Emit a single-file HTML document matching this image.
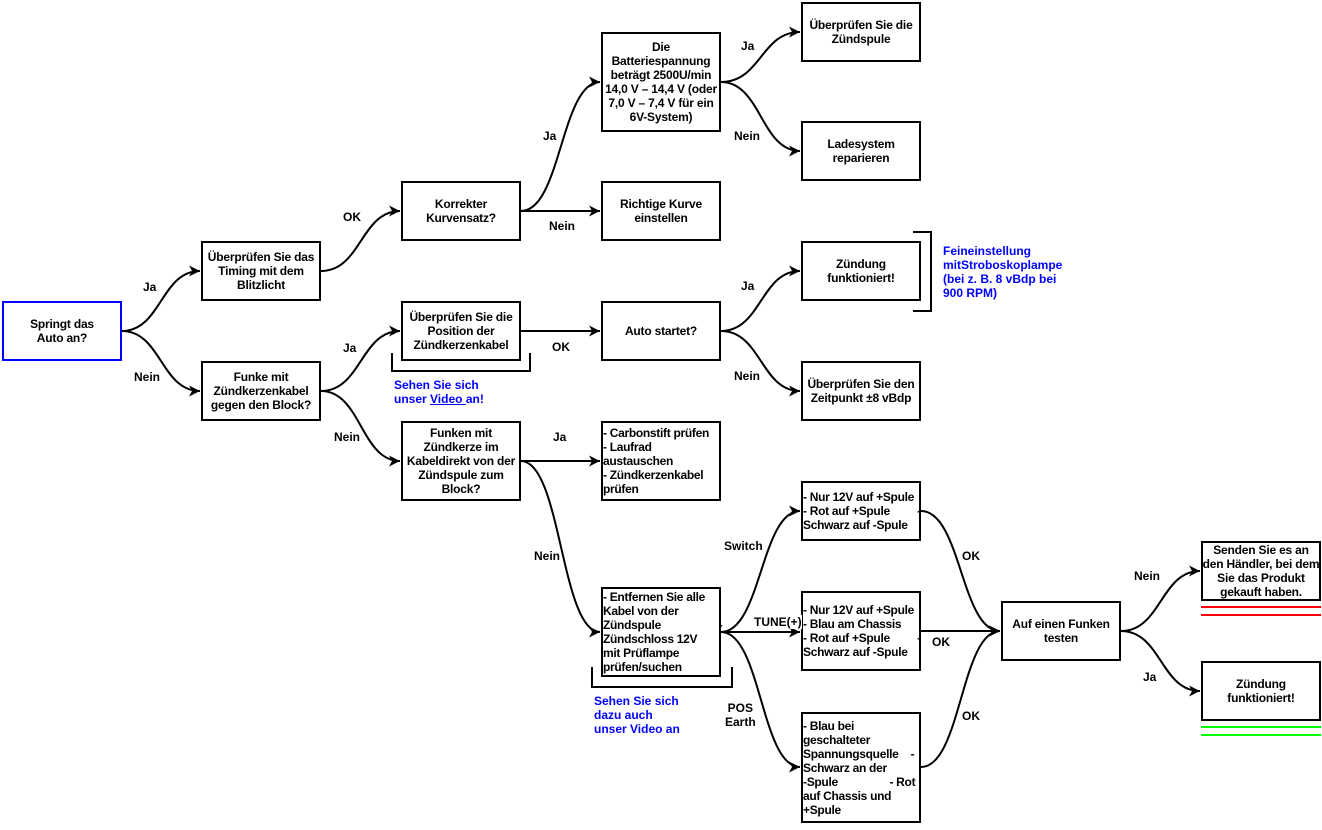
<!DOCTYPE html>
<html><head><meta charset="utf-8"><style>
body{margin:0;width:1322px;height:830px;background:#fff;position:relative;overflow:hidden;font-family:"Liberation Sans",Arial,sans-serif;font-weight:bold;font-size:12px;color:#000}
.b{position:absolute;box-sizing:border-box;border:2px solid #000;background:#fff;display:flex;align-items:center;justify-content:center;text-align:center;line-height:14px;padding:0;white-space:nowrap;letter-spacing:-0.2px}
.l{text-align:left;justify-content:flex-start;letter-spacing:-0.3px}
.t{position:absolute;line-height:14px;white-space:nowrap;background:#fff}
.blue{color:#0000ff;background:none}
svg{position:absolute;left:0;top:0}
</style></head><body>
<svg width="1322" height="830">
<defs><marker id="a" markerWidth="12" markerHeight="12" refX="11" refY="6" orient="auto" markerUnits="userSpaceOnUse"><path d="M0,0.5 L11,6 L0,11.5 L3,6 Z" fill="#000"/></marker></defs>
<g fill="none" stroke="#000" stroke-width="2" marker-end="url(#a)">
<path d="M122,331 C161,331 161,271 200,271"/>
<path d="M122,331 C161,331 161,391 200,391"/>
<path d="M321,271 C361,271 361,211 400,211"/>
<path d="M321,391 C361,391 361,331 400,331"/>
<path d="M321,391 C361,391 361,461 400,461"/>
<path d="M521,211 C561,211 561,82 600,82"/>
<path d="M521,211 L600,211"/>
<path d="M521,331 L600,331"/>
<path d="M521,461 L600,461"/>
<path d="M521,461 C561,461 561,632 600,632"/>
<path d="M721,82 C761,82 761,32 800,32"/>
<path d="M721,82 C761,82 761,151 800,151"/>
<path d="M721,331 C761,331 761,271 800,271"/>
<path d="M721,331 C761,331 761,391 800,391"/>
<path d="M721,632 C761,632 761,511 800,511"/>
<path d="M721,632 L800,632"/>
<path d="M721,632 C761,632 761,767 800,767"/>
<path d="M921,511 C961,511 961,631 1000,631"/>
<path d="M921,631 L1000,631"/>
<path d="M921,767 C961,767 961,631 1000,631"/>
<path d="M1121,631 C1161,631 1161,571 1200,571"/>
<path d="M1121,631 C1161,631 1161,691 1200,691"/>
</g>
<g fill="none" stroke="#000" stroke-width="2">
<path d="M392,353 V371 H530 V353"/>
<path d="M592,667 V687 H732 V667"/>
<path d="M913,232 H931 V311 H913"/>
</g>
<g stroke-width="2"><line x1="1201" y1="607" x2="1321" y2="607" stroke="#f00"/><line x1="1201" y1="615" x2="1321" y2="615" stroke="#f00"/>
<line x1="1201" y1="727" x2="1321" y2="727" stroke="#0f0"/><line x1="1201" y1="735" x2="1321" y2="735" stroke="#0f0"/></g>
</svg>
<div class="b" style="left:2px;top:301px;width:120px;height:60px;border-color:#0000ff">Springt das<br>Auto an?</div>
<div class="b" style="left:201px;top:241px;width:120px;height:60px">Überprüfen Sie das<br>Timing mit dem<br>Blitzlicht</div>
<div class="b" style="left:201px;top:361px;width:120px;height:60px">Funke mit<br>Zündkerzenkabel<br>gegen den Block?</div>
<div class="b" style="left:401px;top:181px;width:120px;height:60px">Korrekter<br>Kurvensatz?</div>
<div class="b" style="left:401px;top:301px;width:120px;height:60px">Überprüfen Sie die<br>Position der<br>Zündkerzenkabel</div>
<div class="b" style="left:401px;top:421px;width:120px;height:80px">Funken mit<br>Zündkerze im<br>Kabeldirekt von der<br>Zündspule zum<br>Block?</div>
<div class="b" style="left:601px;top:32px;width:120px;height:100px">Die<br>Batteriespannung<br>beträgt 2500U/min<br>14,0 V – 14,4 V (oder<br>7,0 V – 7,4 V für ein<br>6V-System)</div>
<div class="b" style="left:601px;top:181px;width:120px;height:60px">Richtige Kurve<br>einstellen</div>
<div class="b" style="left:601px;top:301px;width:120px;height:60px">Auto startet?</div>
<div class="b l" style="left:601px;top:421px;width:120px;height:80px">- Carbonstift prüfen<br>- Laufrad<br>austauschen<br>- Zündkerzenkabel<br>prüfen</div>
<div class="b l" style="left:601px;top:587px;width:120px;height:90px">- Entfernen Sie alle<br>Kabel von der<br>Zündspule&nbsp;&nbsp;&nbsp;&nbsp;&nbsp;&nbsp;&nbsp;&nbsp;&nbsp;&nbsp;&nbsp;&nbsp;&nbsp;&nbsp;&nbsp;&nbsp;&nbsp;&nbsp;&nbsp;-<br>Zündschloss 12V<br>mit Prüflampe<br>prüfen/suchen</div>
<div class="b" style="left:801px;top:2px;width:120px;height:60px">Überprüfen Sie die<br>Zündspule</div>
<div class="b" style="left:801px;top:121px;width:120px;height:60px">Ladesystem<br>reparieren</div>
<div class="b" style="left:801px;top:241px;width:120px;height:60px">Zündung<br>funktioniert!</div>
<div class="b" style="left:801px;top:361px;width:120px;height:60px">Überprüfen Sie den<br>Zeitpunkt ±8 vBdp</div>
<div class="b l" style="left:801px;top:481px;width:120px;height:60px">- Nur 12V auf +Spule<br>- Rot auf +Spule&nbsp;&nbsp;&nbsp;&nbsp;&nbsp;&nbsp;&nbsp;&nbsp;&nbsp;-<br>Schwarz auf -Spule</div>
<div class="b l" style="left:801px;top:591px;width:120px;height:80px">- Nur 12V auf +Spule<br>- Blau am Chassis<br>- Rot auf +Spule&nbsp;&nbsp;&nbsp;&nbsp;&nbsp;&nbsp;&nbsp;&nbsp;&nbsp;-<br>Schwarz auf -Spule</div>
<div class="b l" style="left:801px;top:712px;width:120px;height:111px">- Blau bei<br>geschalteter<br>Spannungsquelle&nbsp;&nbsp;&nbsp;&nbsp;-<br>Schwarz an der<br>-Spule&nbsp;&nbsp;&nbsp;&nbsp;&nbsp;&nbsp;&nbsp;&nbsp;&nbsp;&nbsp;&nbsp;&nbsp;&nbsp;&nbsp;&nbsp;&nbsp;&nbsp;- Rot<br>auf Chassis und<br>+Spule</div>
<div class="b" style="left:1001px;top:601px;width:120px;height:60px">Auf einen Funken<br>testen</div>
<div class="b" style="left:1201px;top:541px;width:120px;height:60px">Senden Sie es an<br>den Händler, bei dem<br>Sie das Produkt<br>gekauft haben.</div>
<div class="b" style="left:1201px;top:661px;width:120px;height:60px">Zündung<br>funktioniert!</div>
<div class="t" style="left:143px;top:280px">Ja</div>
<div class="t" style="left:134px;top:370px">Nein</div>
<div class="t" style="left:343px;top:210px">OK</div>
<div class="t" style="left:343px;top:341px">Ja</div>
<div class="t" style="left:334px;top:430px">Nein</div>
<div class="t" style="left:543px;top:129px">Ja</div>
<div class="t" style="left:549px;top:219px">Nein</div>
<div class="t" style="left:552px;top:340px">OK</div>
<div class="t" style="left:553px;top:430px">Ja</div>
<div class="t" style="left:534px;top:549px">Nein</div>
<div class="t" style="left:741px;top:39px">Ja</div>
<div class="t" style="left:734px;top:129px">Nein</div>
<div class="t" style="left:741px;top:279px">Ja</div>
<div class="t" style="left:734px;top:369px">Nein</div>
<div class="t" style="left:724px;top:539px">Switch</div>
<div class="t" style="left:754px;top:615px">TUNE(+)</div>
<div class="t" style="left:725px;top:701px;text-align:center;background:none">POS<br>Earth</div>
<div class="t" style="left:962px;top:549px">OK</div>
<div class="t" style="left:932px;top:635px">OK</div>
<div class="t" style="left:962px;top:709px">OK</div>
<div class="t" style="left:1134px;top:569px">Nein</div>
<div class="t" style="left:1143px;top:670px">Ja</div>
<div class="t blue" style="left:394px;top:378px">Sehen Sie sich<br>unser <u>Video </u>an!</div>
<div class="t blue" style="left:594px;top:694px">Sehen Sie sich<br>dazu auch<br>unser Video an</div>
<div class="t blue" style="left:943px;top:244px">Feineinstellung<br>mitStroboskoplampe<br>(bei z. B. 8 vBdp bei<br>900 RPM)</div>
</body></html>
